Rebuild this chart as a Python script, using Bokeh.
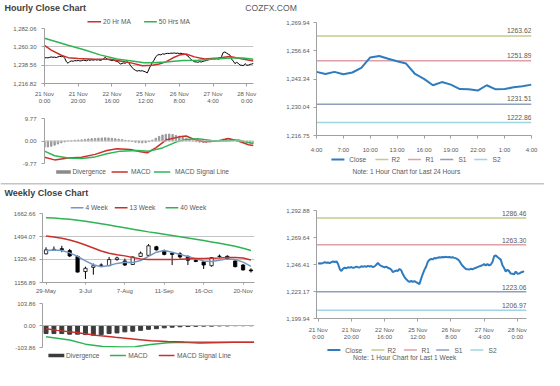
from bokeh.plotting import figure
from bokeh.models import Range1d, FixedTicker, Label, Span, NumeralTickFormatter
from bokeh.layouts import column, row
from bokeh.embed import file_html
from bokeh.resources import INLINE

FONT = "Liberation Sans"
TXT = "#595959"
AXC = "#a0a0a0"
GRID = "#c4c4c4"
RED = "#c9302c"
GREEN = "#2fb454"
BLUE = "#2e7bbf"
MA4C = "#7398c2"
LVL_COLORS = ["#c5ca8c", "#dda0a8", "#8fa0b8", "#a0d4e0"]

# ---------------- data ----------------
hourly_close = [
    1247.0, 1247.5, 1247.2, 1247.8, 1248.3, 1247.9, 1248.1, 1247.6, 1248.4, 1249.0,
    1248.6, 1249.1, 1246.8, 1242.5, 1240.8, 1242.9, 1243.6, 1243.2, 1244.0, 1243.7,
    1244.2, 1243.5, 1243.9, 1244.6, 1244.1, 1243.8, 1244.9, 1244.3, 1245.0, 1244.4,
    1245.2, 1244.6, 1245.1, 1244.2, 1244.8, 1246.2, 1247.8, 1246.0, 1245.1, 1244.6,
    1243.9, 1244.5, 1243.6, 1243.0, 1242.1, 1239.8, 1240.6, 1241.2, 1240.9, 1242.6,
    1241.5, 1238.2, 1235.6, 1233.8, 1232.4, 1231.5, 1232.2, 1231.6, 1232.0, 1231.2,
    1230.5, 1229.4, 1234.0, 1238.2, 1241.8, 1244.5, 1248.6, 1250.4, 1251.2, 1250.8,
    1252.0, 1251.6, 1252.3, 1252.6, 1252.4, 1252.9, 1252.7, 1253.0, 1252.6, 1252.8,
    1252.4, 1252.7, 1252.1, 1251.8, 1250.9, 1249.6, 1247.2, 1245.3, 1243.9, 1242.6,
    1242.4, 1242.0, 1242.7, 1242.3, 1243.1, 1243.6, 1244.2, 1244.8, 1245.3, 1245.9,
    1246.7, 1245.7, 1246.7, 1245.6, 1246.4, 1248.6, 1253.5, 1254.2, 1252.9, 1251.7,
    1250.6, 1245.7, 1243.4, 1240.4, 1241.9, 1240.7, 1238.6, 1238.5, 1237.9, 1240.4,
    1238.5, 1238.6, 1239.5, 1239.9, 1240.7,
]
hour_idx = list(range(len(hourly_close)))
hour_ticks = [0, 20, 40, 60, 80, 100, 120]
hour_tick_labels = ["21 Nov\n0:00", "21 Nov\n20:00", "22 Nov\n16:00", "25 Nov\n12:00",
                    "26 Nov\n8:00", "27 Nov\n4:00", "28 Nov\n0:00"]
hourly_y_ticks = [1216.82, 1238.56, 1260.30, 1282.06]

ma20_x = [0, 4, 10, 14, 20, 30, 39, 45, 52, 58, 64, 68, 72, 76, 80, 84, 89, 95, 103, 110, 116, 124]
ma20_y = [1262.1, 1256.5, 1250.3, 1247.5, 1246.6, 1245.6, 1245.6, 1243.6, 1241.0, 1237.8, 1238.6,
          1240.0, 1242.5, 1247.0, 1250.5, 1251.8, 1248.4, 1245.8, 1247.0, 1248.9, 1246.6, 1243.4]
ma50_x = [0, 7, 14, 24, 33, 43, 53, 59, 64, 72, 82, 91, 101, 111, 118, 124]
ma50_y = [1270.4, 1266.3, 1262.1, 1256.5, 1250.8, 1245.8, 1243.2, 1241.3, 1241.3, 1242.4,
          1244.0, 1244.4, 1245.8, 1247.0, 1247.0, 1245.6]

macd_h_x = [0, 6, 14, 22, 30, 37, 43, 51, 57, 61, 66, 72, 80, 84, 90, 95, 103, 109, 115, 121, 124]
macd_h_y = [-7.1, -8.2, -7.4, -7.1, -5.8, -4.1, -3.4, -3.7, -4.7, -5.1, -3.0, 0.4, 1.8, 2.2,
            0.4, -0.3, 0.0, 1.1, 0.0, -1.6, -2.0]
sig_h_x = [0, 6, 14, 22, 30, 37, 45, 55, 62, 70, 78, 84, 91, 99, 107, 115, 121, 124]
sig_h_y = [-4.4, -6.4, -7.4, -7.6, -6.9, -5.5, -4.4, -4.1, -4.4, -3.0, -0.5, 0.7, 1.0, 0.2,
           0.0, 0.4, -0.7, -1.1]
div_h_x = list(range(0, 125, 2))
div_h_y = [-2.7, -2.6, -2.3, -1.8, -1.3, -0.8, -0.4, 0.0, 0.1, 0.3, 0.4, 0.5, 0.7, 0.9, 1.0, 1.1,
           1.2, 1.3, 1.4, 1.3, 1.2, 1.0, 0.8, 0.6, 0.3, 0.1, -0.2, -0.5, -0.7, -0.8, -0.7, -0.3,
           0.4, 1.2, 2.0, 2.6, 2.9, 3.0, 2.8, 2.4, 2.1, 1.6, 1.1, 0.6, 0.1, -0.3, -0.5, -0.6,
           -0.5, -0.4, -0.2, 0.1, 0.4, 0.8, 1.0, 0.9, 0.5, 0.0, -0.3, -0.5, -0.7, -0.9, -1.0]
hourly_macd_ticks = [-9.77, 0.0, 9.77]

day_ticks = [100, 103, 106, 109, 112, 115, 118, 121, 124]
day_tick_labels = ["4:00", "7:00", "10:00", "13:00", "16:00", "19:00", "22:00", "1:00", "4:00"]
day_y_ticks = [1216.75, 1230.04, 1243.34, 1256.64, 1269.94]
level_names = ["R2", "R1", "S1", "S2"]
day_levels = [1263.62, 1251.89, 1231.51, 1222.86]

weeks = list(range(27))
w_open = [1367, 1398, 1405, 1391, 1348, 1237, 1268, 1283, 1280, 1325, 1315, 1289, 1348, 1356,
          1419, 1391, 1372, 1367, 1348, 1320, 1308, 1280, 1347, 1349, 1315, 1285, 1249]
w_close = [1396, 1400, 1397, 1351, 1233, 1261, 1280, 1285, 1325, 1337, 1285, 1344, 1372, 1426,
           1396, 1363, 1363, 1344, 1320, 1311, 1285, 1339, 1350, 1332, 1273, 1249, 1242]
w_high = [1415, 1421, 1426, 1403, 1355, 1273, 1296, 1297, 1344, 1346, 1332, 1348, 1384, 1438,
          1426, 1398, 1374, 1379, 1356, 1325, 1315, 1344, 1362, 1356, 1320, 1292, 1261]
w_low = [1363, 1391, 1379, 1344, 1230, 1183, 1214, 1273, 1278, 1316, 1278, 1285, 1344, 1348,
         1391, 1356, 1285, 1332, 1285, 1306, 1256, 1273, 1339, 1325, 1268, 1244, 1230]
ma4 = [1391, 1396, 1391, 1374, 1348, 1315, 1287, 1273, 1282, 1297, 1306, 1304, 1318, 1348,
       1379, 1391, 1379, 1363, 1348, 1332, 1315, 1311, 1320, 1330, 1325, 1306, 1275]
ma13 = [1497, 1490, 1481, 1468, 1452, 1432, 1410, 1388, 1372, 1361, 1352, 1340, 1330, 1326,
        1325, 1325, 1326, 1327, 1330, 1332, 1333, 1335, 1337, 1340, 1341, 1336, 1322]
ma40 = [1632, 1629, 1625, 1620, 1614, 1606, 1597, 1588, 1578, 1568, 1558, 1548, 1538, 1528,
        1519, 1510, 1501, 1492, 1483, 1474, 1464, 1454, 1444, 1434, 1422, 1408, 1392]
week_ticks = [0, 5, 10, 15, 20, 25]
week_tick_labels = ["29-May", "3-Jul", "7-Aug", "11-Sep", "16-Oct", "20-Nov"]
weekly_y_ticks = [1156.89, 1326.48, 1494.07, 1662.66]

w_div = [-38, -38, -38, -41, -41, -43, -46, -43, -38, -35, -30, -27, -23, -18, -15, -11, -8, -6,
         -5, -4, -3, -3, -2, -2, -1, -1, -1]
wmacd_x = [0, 3, 5, 7.2, 9.6, 11.3, 13, 15.4, 17.5, 19.5, 21.6, 23.7, 26.4]
wmacd_y = [-53.5, -68.6, -88, -99, -101, -100, -91, -81, -79, -84, -81, -79, -79]
wsig_x = [0, 1.4, 3.8, 6.3, 8.8, 11.3, 13.3, 15.4, 17.5, 21.6, 26.4]
wsig_y = [-15, -23, -33, -46, -56, -65, -72, -76, -78, -79, -79]
weekly_macd_ticks = [-103.86, 0.0, 103.86]

week1h_y_ticks = [1199.94, 1223.17, 1246.41, 1269.64, 1292.88]
week_levels = [1286.46, 1263.30, 1223.06, 1206.97]


# ---------------- helpers ----------------
def chart(w, h, xr, yr, left, right, top, bottom, x_axis=True):
    p = figure(width=w, height=h, x_range=Range1d(*xr), y_range=Range1d(*yr),
               output_backend="svg", toolbar_location=None,
               x_axis_location="below" if x_axis else None,
               min_border_left=left, min_border_right=right,
               min_border_top=top, min_border_bottom=bottom)
    p.outline_line_color = None
    p.grid.visible = False
    for ax in p.axis:
        ax.axis_line_color = AXC
        ax.major_tick_line_color = AXC
        ax.minor_tick_line_color = None
        ax.major_tick_in = 0
        ax.major_tick_out = 3
        ax.major_label_standoff = 4
        ax.major_label_text_font = FONT
        ax.major_label_text_font_size = "6px"
        ax.major_label_text_color = TXT
    return p


def canvas(w, h, left=0, right=0):
    # the frame spans [left, w-right]; data x equals the pixel offset inside the canvas
    p = figure(width=w, height=h, x_range=Range1d(left, w - right), y_range=Range1d(0, h),
               output_backend="svg", toolbar_location=None,
               x_axis_type=None, y_axis_type=None,
               min_border_left=left, min_border_right=right, min_border_top=0, min_border_bottom=0)
    p.grid.visible = False
    p.outline_line_color = None
    return p


def text_label(p, x, y, txt, size="6.6px", align="left", bold=False, color=TXT, y_offset=0):
    p.add_layout(Label(x=x, y=y, text=txt, text_font=FONT, text_font_size=size,
                       text_font_style="bold" if bold else "normal", text_color=color,
                       text_align=align, text_baseline="middle", y_offset=y_offset))


def key_canvas(w, h, left, right, yc, entries):
    """Key strip: each entry = (label, swatch_x0, swatch_x1, text_x, color, width)."""
    c = canvas(w, h, left, right)
    for label, x0, x1, tx, color, lw in entries:
        c.line([x0, x1], [yc, yc], color=color, line_width=lw)
        text_label(c, tx, yc, label)
    return c


# ---------------- header ----------------
header = canvas(544, 14)
text_label(header, 4, 7, "Hourly Close Chart", size="9px", bold=True, color="#404040")
text_label(header, 270.6, 7, "COZFX.COM", size="8.6px", align="center")

# ---------------- hourly main ----------------
hm_leg = key_canvas(262, 11, 44, 9, 4.8, [("20 Hr MA", 87.0, 100.6, 102.6, RED, 1.5),
                                          ("50 Hrs MA", 143.6, 156.3, 158.3, GREEN, 1.5)])
hm = chart(262, 81, (0, 124), (hourly_y_ticks[0], hourly_y_ticks[-1]), 44, 9, 3, 23)
hm.yaxis.ticker = FixedTicker(ticks=hourly_y_ticks)
hm.yaxis.formatter = NumeralTickFormatter(format="0,0.00")
hm.yaxis.major_label_standoff = 5
hm.xaxis.ticker = FixedTicker(ticks=hour_ticks)
hm.xaxis.major_label_overrides = dict(zip(hour_ticks, hour_tick_labels))
hm.ygrid.visible = True
hm.ygrid.ticker = FixedTicker(ticks=hourly_y_ticks[1:-1])
hm.ygrid.grid_line_color = GRID
hm.line(hour_idx, hourly_close, color="black", line_width=1)
hm.line(ma20_x, ma20_y, color=RED, line_width=1.5)
hm.line(ma50_x, ma50_y, color=GREEN, line_width=1.5)

# ---------------- hourly macd ----------------
hd = chart(262, 61, (0, 124), (hourly_macd_ticks[0], hourly_macd_ticks[-1]), 44, 9, 12, 4,
           x_axis=False)
hd.yaxis.ticker = FixedTicker(ticks=hourly_macd_ticks)
hd.yaxis.formatter = NumeralTickFormatter(format="0.00")
hd.yaxis.major_label_standoff = 5
hd.vbar(x=div_h_x, top=div_h_y, bottom=0, width=0.8, color="#9a9a9a")
hd.add_layout(Span(location=0, dimension="width", line_color="#c8c8c8", line_width=1))
hd.line(macd_h_x, macd_h_y, color=RED, line_width=1.5)
hd.line(sig_h_x, sig_h_y, color=GREEN, line_width=1.5)
hd_leg = key_canvas(262, 12, 44, 9, 7.6, [("Divergence", 55.7, 70.3, 72.0, "#8a8a8a", 3.5),
                                          ("MACD", 111.1, 127.3, 130.6, RED, 1.5),
                                          ("MACD Signal Line", 153.4, 169.7, 174.6, GREEN, 1.5)])

# ---------------- hourly right (24h) ----------------
hr = chart(282, 141, (day_ticks[0], day_ticks[-1]), (day_y_ticks[0], day_y_ticks[-1]),
           54, 13, 8, 19)
hr.yaxis.ticker = FixedTicker(ticks=day_y_ticks)
hr.yaxis.formatter = NumeralTickFormatter(format="0,0.00")
hr.xaxis.ticker = FixedTicker(ticks=day_ticks)
hr.xaxis.major_label_overrides = dict(zip(day_ticks, day_tick_labels))
hr.xaxis.major_label_standoff = 8
for lvl, col in zip(day_levels, LVL_COLORS):
    hr.line([day_ticks[0], day_ticks[-1]], [lvl, lvl], color=col, line_width=1.5)
    text_label(hr, day_ticks[-1], lvl, f"{lvl:.2f}", size="6.8px", align="right", y_offset=5.5)
hr.line(hour_idx[day_ticks[0]:], hourly_close[day_ticks[0]:], color=BLUE, line_width=2)
hr_keys = [("Close", 68.9, 81.9, 86.8, BLUE, 2)]
for n, c, x0, tx in zip(level_names, LVL_COLORS, [112.9, 145.4, 177.7, 211.8],
                        [129.1, 163.0, 195.9, 230.1]):
    hr_keys.append((n, x0, x0 + 13, tx, c, 1.5))
hr_leg = key_canvas(282, 24, 54, 13, 20.1, hr_keys)
text_label(hr_leg, 143.8, 7.6, "Note: 1 Hour Chart for Last 24 Hours", align="center")

# ---------------- separator ----------------
sep = canvas(544, 20)
sep.add_layout(Span(location=15.7, dimension="width", line_color="#c4c4c4", line_width=1.5))
text_label(sep, 4, 6.7, "Weekly Close Chart", size="9px", bold=True, color="#404040")

# ---------------- weekly main ----------------
wm_leg = key_canvas(262, 11, 42, 8, 3.8, [("4 Week", 70.3, 83.0, 85.0, MA4C, 1.5),
                                          ("13 Week", 114.3, 127.0, 129.0, RED, 1.5),
                                          ("40 Week", 165.1, 177.8, 179.8, GREEN, 1.5)])
wm = chart(262, 86, (-0.45, 26.45), (weekly_y_ticks[0], weekly_y_ticks[-1]), 42, 8, 3, 14)
wm.yaxis.ticker = FixedTicker(ticks=weekly_y_ticks)
wm.yaxis.formatter = NumeralTickFormatter(format="0.00")
wm.xaxis.ticker = FixedTicker(ticks=week_ticks)
wm.xaxis.major_label_overrides = dict(zip(week_ticks, week_tick_labels))
wm.xaxis.major_tick_out = 2
wm.xaxis.major_label_standoff = 3
wm.ygrid.visible = True
wm.ygrid.ticker = FixedTicker(ticks=weekly_y_ticks[1:-1])
wm.ygrid.grid_line_color = GRID
body_top = [max(o, c) for o, c in zip(w_open, w_close)]
body_bot = [min(o, c) for o, c in zip(w_open, w_close)]
body_fill = ["white" if c >= o else "black" for o, c in zip(w_open, w_close)]
wm.segment(weeks, w_high, weeks, w_low, color="black", line_width=1)
wm.vbar(x=weeks, top=body_top, bottom=body_bot, width=0.42, fill_color=body_fill,
        line_color="black", line_width=0.8)
wm.line(weeks, ma4, color=MA4C, line_width=1.5)
wm.line(weeks, ma13, color=RED, line_width=1.5)
wm.line(weeks, ma40, color=GREEN, line_width=1.5)

# ---------------- weekly macd ----------------
wd = chart(262, 55, (-0.45, 26.45), (weekly_macd_ticks[0], weekly_macd_ticks[-1]), 42, 8, 7, 4,
           x_axis=False)
wd.yaxis.ticker = FixedTicker(ticks=weekly_macd_ticks)
wd.yaxis.formatter = NumeralTickFormatter(format="0.00")
wd.add_layout(Span(location=0, dimension="width", line_color="#b0b0b0", line_width=1))
wd.vbar(x=weeks, top=w_div, bottom=0, width=0.5, color="#3c3c3c")
wd.line(wmacd_x, wmacd_y, color=GREEN, line_width=1.5)
wd.line(wsig_x, wsig_y, color=RED, line_width=1.5)
wd_leg = key_canvas(262, 13, 42, 8, 9, [("Divergence", 47.9, 63.8, 65.5, "#3c3c3c", 3.5),
                                        ("MACD", 109.4, 125.4, 127.7, GREEN, 1.5),
                                        ("MACD Signal Line", 158.3, 174.0, 176.6, RED, 1.5)])

# ---------------- weekly right (1 week hourly) ----------------
wr = chart(282, 143, (-1, 125.5), (week1h_y_ticks[0], week1h_y_ticks[-1]), 54, 18, 11, 23)
wr.yaxis.ticker = FixedTicker(ticks=week1h_y_ticks)
wr.yaxis.formatter = NumeralTickFormatter(format="0,0.00")
wr.xaxis.ticker = FixedTicker(ticks=hour_ticks)
wr.xaxis.major_label_overrides = dict(zip(hour_ticks, hour_tick_labels))
wr.xaxis.major_label_standoff = 5
for lvl, col in zip(week_levels, LVL_COLORS):
    wr.line([-1, 125.5], [lvl, lvl], color=col, line_width=1.5)
    text_label(wr, 125.5, lvl, f"{lvl:.2f}", size="6.8px", align="right", y_offset=4.5)
wr.line(hour_idx, hourly_close, color=BLUE, line_width=2)
wr_keys = [("Close", 64.9, 77.9, 82.8, BLUE, 2)]
for n, c, x0, tx in zip(level_names, LVL_COLORS, [108.9, 141.4, 173.7, 207.8],
                        [125.1, 159.0, 191.9, 226.1]):
    wr_keys.append((n, x0, x0 + 13, tx, c, 1.5))
wr_leg = key_canvas(282, 22, 54, 18, 14.4, wr_keys)
text_label(wr_leg, 142.2, 7.0, "Note: 1 Hour Chart for Last 1 Week", align="center")

# ---------------- bottom separator ----------------
sep2 = canvas(544, 6)
sep2.add_layout(Span(location=1.5, dimension="width", line_color="#c4c4c4", line_width=1.5))

layout = column(header,
                row(column(hm_leg, hm, hd, hd_leg), column(hr, hr_leg)),
                sep,
                row(column(wm_leg, wm, wd, wd_leg), column(wr, wr_leg)),
                sep2)

open("out.html", "w").write(file_html(layout, INLINE))
